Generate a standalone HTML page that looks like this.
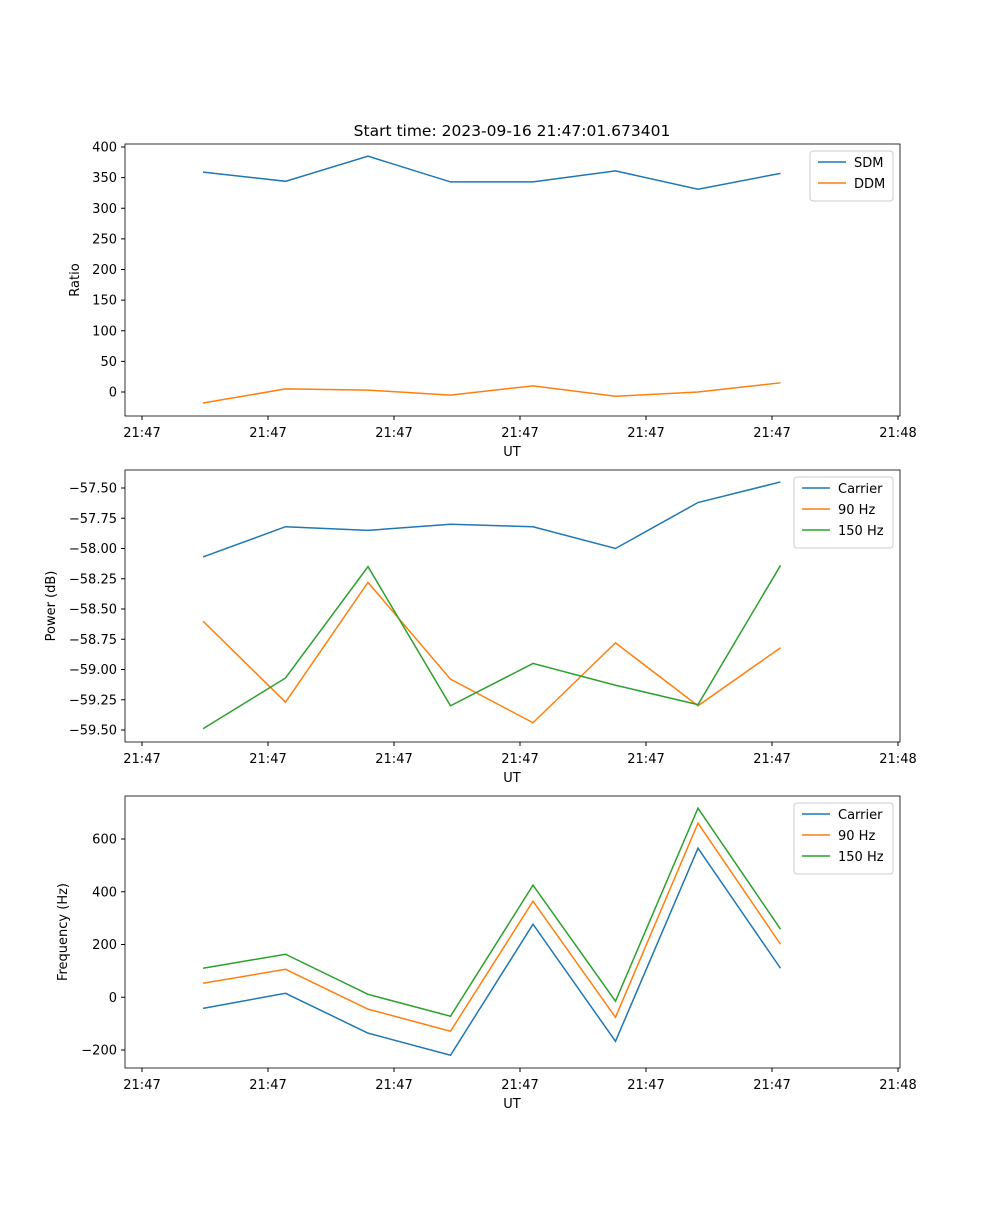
<!DOCTYPE html>
<html><head><meta charset="utf-8"><style>
body{margin:0;background:#fff}
svg text{font-family:"DejaVu Sans","Liberation Sans",sans-serif;font-size:13px;fill:#000}
</style></head><body>
<svg id="c" width="1000" height="1200" xmlns="http://www.w3.org/2000/svg"></svg>
<script>
const xIndex=[0,1,2,3,4,5,6,7];
const xTickLabels=["21:47","21:47","21:47","21:47","21:47","21:47","21:48"];
const sdm=[359,344,385,343,343,361,331,357];
const ddm=[-18,5,3,-5,10,-7,0,15];
const pCarrier=[-58.07,-57.82,-57.85,-57.80,-57.82,-58.0,-57.62,-57.45];
const p90=[-58.6,-59.27,-58.28,-59.08,-59.44,-58.78,-59.30,-58.82];
const p150=[-59.49,-59.07,-58.15,-59.30,-58.95,-59.13,-59.29,-58.14];
const fCarrier=[-42,15,-136,-220,277,-167,565,110];
const f90=[53,106,-45,-129,364,-76,660,201];
const f150=[110,163,11,-72,425,-15,717,258];
const ticks1=[0,50,100,150,200,250,300,350,400];
const ticks2=[-59.5,-59.25,-59.0,-58.75,-58.5,-58.25,-58.0,-57.75,-57.5];
const ticks3=[-200,0,200,400,600];
const C=["#1f77b4","#ff7f0e","#2ca02c"];
const svg=document.getElementById('c');
const NS="http://www.w3.org/2000/svg";
function el(t,a,txt){const e=document.createElementNS(NS,t);for(const k in a)e.setAttribute(k,a[k]);if(txt!==undefined)e.textContent=txt;svg.appendChild(e);return e;}
const X=i=>203+i*82.5;
const xt=i=>142+i*126;
function panel(top,v0,p0,v1,p1,ticks,fmt,ylabel,series,names,legW,name){
  const Y=v=>p0+(v-v0)*(p1-p0)/(v1-v0);
  const frame=el('rect',{x:125,y:top,width:775,height:272,fill:'none',stroke:'#000','stroke-width':0.8});
  
  ticks.forEach(t=>{const y=Y(t);
    const l=el('line',{x1:121,x2:125,y1:y,y2:y,stroke:'#000'});
    const tx=el('text',{x:117,y:y+4.5,'text-anchor':'end'},fmt(t).replace('-','\u2212'));});
  xTickLabels.forEach((s,i)=>{const x=xt(i);
    const l=el('line',{x1:x,x2:x,y1:top+272,y2:top+276,stroke:'#000'});
    const tx=el('text',{x:x,y:top+293,'text-anchor':'middle'},s);});
  const xl=el('text',{x:512,y:top+312,'text-anchor':'middle'},'UT');
  const yx=ylabel==='Ratio'?79:(ylabel==='Power (dB)'?55:67);
  const yl=el('text',{x:yx,y:top+136,'text-anchor':'middle',transform:`rotate(-90 ${yx} ${top+136})`},ylabel);
  series.forEach((s,k)=>{const pl=el('polyline',{points:xIndex.map(i=>X(i)+','+Y(s[i])).join(' '),fill:'none',stroke:C[k],'stroke-width':1.5});
    });
  const lx=893-legW, lh=8+names.length*21;
  const lg=el('rect',{x:lx,y:top+7,width:legW,height:lh,fill:'#fff',stroke:'#ccc',rx:3});
  names.forEach((n,k)=>{const y=top+18+k*21;
    const l=el('line',{x1:lx+8,x2:lx+36,y1:y,y2:y,stroke:C[k],'stroke-width':1.5});
    const t=el('text',{x:lx+44,y:y+5},n);});
}
panel(144,0,392,400,147,ticks1,v=>String(v),'Ratio',[sdm,ddm],['SDM','DDM'],83,'ratio-panel');
panel(470,-59.5,730,-57.5,488,ticks2,v=>v.toFixed(2),'Power (dB)',[pCarrier,p90,p150],['Carrier','90 Hz','150 Hz'],99,'power-panel');
panel(796,-200,1050,600,839,ticks3,v=>String(v),'Frequency (Hz)',[fCarrier,f90,f150],['Carrier','90 Hz','150 Hz'],99,'frequency-panel');
const t=el('text',{x:512,y:136,'text-anchor':'middle','font-size':'15.5'},'Start time: 2023-09-16 21:47:01.673401');

t.style.fontSize='15.5px';
</script>
</body></html>
